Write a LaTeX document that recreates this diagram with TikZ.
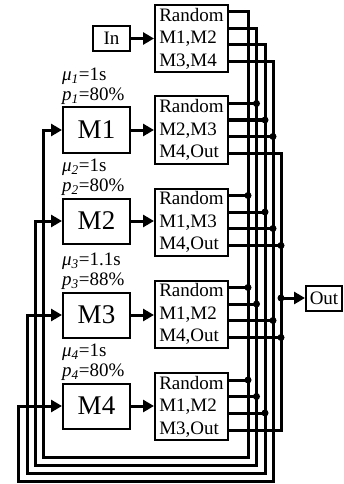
\documentclass[tikz,border=0pt]{standalone}
\usepackage{fontspec}
\setmainfont{Liberation Serif}
\usetikzlibrary{arrows.meta}

\tikzset{
  box/.style={draw, line width=2pt, inner sep=0pt},
  router/.style={box, minimum width=73pt, minimum height=67pt, align=left,
    font=\fontsize{19}{22.5}\selectfont},
  station/.style={box, minimum width=67pt, minimum height=45pt,
    font=\fontsize{27}{27}\selectfont},
  wire/.style={line width=3pt},
  arr/.style={wire, -{Triangle[length=11pt,width=12pt]}},
  joint/.style={circle, fill, inner sep=0pt, minimum size=7pt},
  lbl/.style={align=left, inner sep=0pt, font=\fontsize{19}{20}\selectfont},
}

\begin{document}
\begin{tikzpicture}[x=1pt,y=-1pt]
    \useasboundingbox (0,0) rectangle (343,484);
    % Source, routers, stations, sink
    \node[box, minimum width=37pt, minimum height=25pt, font=\fontsize{19}{19}\selectfont] (In) at (111.5,38.5) {In};
    \node[router] (r0) at (191.5,38.5) {Random\\M1,M2\\M3,M4};
    \node[router] (r1) at (191.5,130) {Random\\M2,M3\\M4,Out};
    \node[router] (r2) at (191.5,222) {Random\\M1,M3\\M4,Out};
    \node[router] (r3) at (191.5,314) {Random\\M1,M2\\M4,Out};
    \node[router] (r4) at (191.5,406.5) {Random\\M1,M2\\M3,Out};
    \node[station] (M1) at (96.5,130) {M1};
    \node[station] (M2) at (96.5,221) {M2};
    \node[station] (M3) at (96.5,315) {M3};
    \node[station] (M4) at (96.5,406) {M4};
    \node[box, minimum width=36pt, minimum height=25pt, font=\fontsize{19}{19}\selectfont] (Out) at (324,298) {Out};
    % Station parameters
    \node[lbl, anchor=south west] at ([yshift=2pt]M1.north west) {\textit{μ}\textsubscript{\textit{1}}=1s\\\textit{p}\textsubscript{\textit{1}}=80\%};
    \node[lbl, anchor=south west] at ([yshift=2pt]M2.north west) {\textit{μ}\textsubscript{\textit{2}}=1s\\\textit{p}\textsubscript{\textit{2}}=80\%};
    \node[lbl, anchor=south west] at ([yshift=2pt]M3.north west) {\textit{μ}\textsubscript{\textit{3}}=1.1s\\\textit{p}\textsubscript{\textit{3}}=88\%};
    \node[lbl, anchor=south west] at ([yshift=2pt]M4.north west) {\textit{μ}\textsubscript{\textit{4}}=1s\\\textit{p}\textsubscript{\textit{4}}=80\%};
    % Router ports
    \foreach \r in {0,...,4}{
      \foreach \k/\dy in {1/8,2/24.5,3/41,4/58}
        \coordinate (r\r-\k) at ([yshift=-\dy pt]r\r.north east);
    }
    % Bus corners
    \foreach \k/\bx/\by/\lx in {1/248/457/43, 2/256.5/465/35, 3/265/473/27, 4/273/481/18}{
      \coordinate (c\k) at (\bx,\by);
      \coordinate (d\k) at (\lx,\by);
    }
    \coordinate (ob) at (281,0);
    % Inputs to routers
    \draw[arr] (In.east) -- (In.east -| r0.west);
    \foreach \k in {1,...,4}
      \draw[arr] (M\k.east) -- (M\k.east -| r\k.west);
    % Buses back to the stations
    \foreach \k in {1,...,4}
      \draw[arr] (r0-\k) -| (c\k) -- (d\k) |- (M\k.west);
    \foreach \r/\k/\b in {1/1/2, 1/2/3, 1/3/4, 2/1/1, 2/2/3, 2/3/4,
                          3/1/1, 3/2/2, 3/3/4, 4/1/1, 4/2/2, 4/3/3}
      \draw[wire] (r\r-\k) -- (r\r-\k -| c\b) node[joint] {};
    % Bus to the sink
    \draw[wire] (r1-4) -| (r4-4 -| ob) -- (r4-4);
    \draw[wire] (r2-4) -- (r2-4 -| ob) node[joint] {};
    \draw[wire] (r3-4) -- (r3-4 -| ob) node[joint] {};
    \draw[arr] (ob |- Out.west) node[joint] {} -- (Out.west);
\end{tikzpicture}
\end{document}
